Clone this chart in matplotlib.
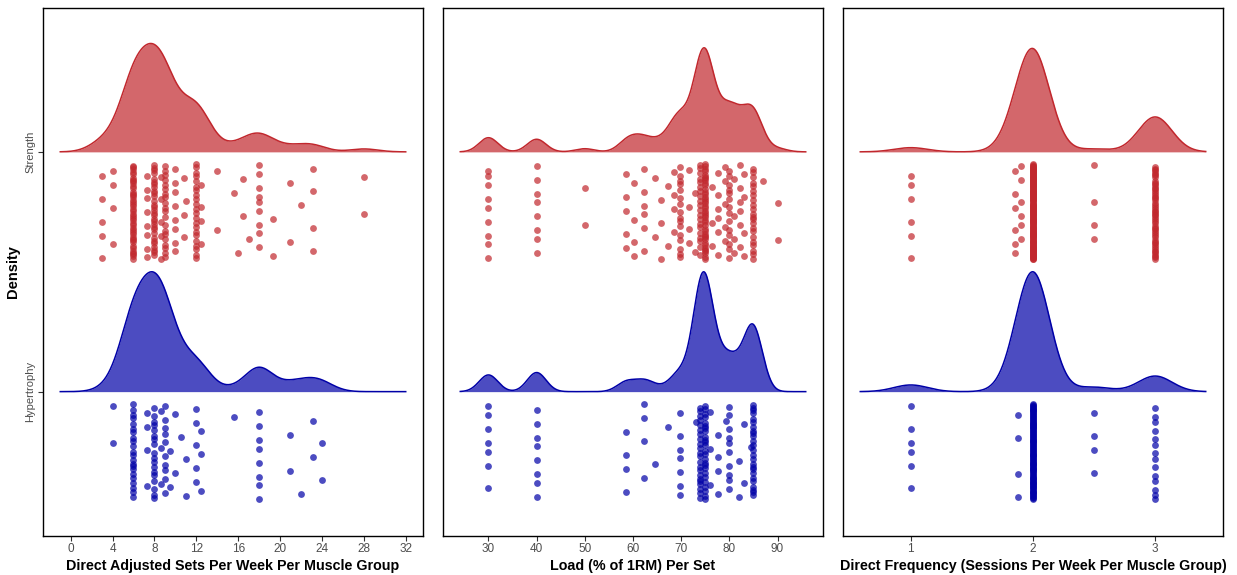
import numpy as np
import matplotlib.pyplot as plt

plt.rcParams['font.family'] = ['Liberation Sans', 'DejaVu Sans']

RED = "#C1272D"
BLUE = "#0000A7"

sets_str_x = [3, 4, 6, 7.3, 8, 8.6, 9, 10, 10.8, 11, 12, 12.4, 14, 15.6, 16, 16.5, 17, 18, 19.3, 20.9, 22, 23.1, 28]
sets_str_n = [5, 4, 42, 8, 30, 5, 20, 8, 3, 1, 22, 4, 2, 1, 1, 2, 1, 9, 2, 2, 1, 4, 2]
sets_hyp_x = [4, 6, 7.3, 8, 8.6, 9, 9.5, 10, 10.5, 11, 12, 12.4, 15.6, 18, 20.9, 22, 23.1, 24]
sets_hyp_n = [2, 22, 4, 18, 3, 10, 2, 2, 1, 2, 5, 3, 1, 8, 2, 1, 2, 2]

load_str_x = [30, 40, 50, 58.6, 60.2, 62.3, 64.5, 65.9, 67.2, 68.5, 69.7, 71.7, 72.8, 74, 75, 76.4, 77.7, 79, 80, 80.9, 82.3, 83, 85, 86.9, 90]
load_str_n = [9, 8, 2, 5, 4, 6, 2, 3, 2, 4, 16, 4, 2, 20, 40, 3, 6, 5, 14, 4, 6, 4, 22, 1, 2]
load_hyp_x = [30, 40, 58.6, 62.3, 64.5, 67.2, 69.7, 73, 74, 75, 76, 77.7, 79.3, 80, 82, 83, 84.4, 85]
load_hyp_n = [7, 8, 4, 4, 1, 1, 7, 1, 22, 25, 3, 4, 1, 10, 2, 2, 1, 25]

freq_str_x = [1, 1.85, 1.9, 2, 2.5, 3]
freq_str_n = [6, 6, 6, 140, 4, 50]
freq_hyp_x = [1, 1.875, 2, 2.5, 3]
freq_hyp_n = [6, 4, 105, 4, 14]

groups = ["Hypertrophy", "Strength"]

panels = [
    dict(xlabel="Direct Adjusted Sets Per Week Per Muscle Group",
         strength=(sets_str_x, sets_str_n), hyp=(sets_hyp_x, sets_hyp_n),
         bw=1.33, ticks=np.arange(0, 33, 4)),
    dict(xlabel="Load (% of 1RM) Per Set",
         strength=(load_str_x, load_str_n), hyp=(load_hyp_x, load_hyp_n),
         bw=1.95, ticks=np.arange(30, 91, 10)),
    dict(xlabel="Direct Frequency (Sessions Per Week Per Muscle Group)",
         strength=(freq_str_x, freq_str_n), hyp=(freq_hyp_x, freq_hyp_n),
         bw=0.138, ticks=[1, 2, 3]),
]


def kde(data, grid, bw):
    d = (grid[:, None] - data[None, :]) / bw
    return np.exp(-0.5 * d ** 2).sum(1) / (len(data) * bw * np.sqrt(2 * np.pi))


def jitter(n, phase):
    i = np.arange(n)
    frac = (i * 0.6180339887 + phase) % 1.0
    return -(0.05 + 0.40 * frac)


fig = plt.figure(figsize=(12.37, 5.75), dpi=100)
lefts = [43 / 1237, 443 / 1237, 843 / 1237]
w = 380 / 1237
bottom = 39.5 / 575
h = 527.5 / 575

for k, p in enumerate(panels):
    ax = fig.add_axes([lefts[k], bottom, w, h])
    s_data = np.repeat(p["strength"][0], p["strength"][1]).astype(float)
    h_data = np.repeat(p["hyp"][0], p["hyp"][1]).astype(float)
    bw = p["bw"]
    lo = min(s_data.min(), h_data.min()) - 3 * bw
    hi = max(s_data.max(), h_data.max()) + 3 * bw
    grid = np.linspace(lo, hi, 512)
    ds = kde(s_data, grid, bw)
    dh = kde(h_data, grid, bw)
    top = max(ds.max(), dh.max())

    for base, data, dens, col, ph in [(2, s_data, ds, RED, 0.13), (1, h_data, dh, BLUE, 0.41)]:
        yy = base + dens / top * 0.5
        ax.fill_between(grid, base, yy, color=col, alpha=0.7, lw=0, zorder=2)
        ax.plot(grid, yy, color=col, lw=1.1, zorder=3)
        ax.scatter(data, base + jitter(len(data), ph), s=24, color=col,
                   alpha=0.7, lw=0, zorder=4)

    pad = (hi - lo) * 0.05
    ax.set_xlim(lo - pad, hi + pad)
    ax.set_ylim(0.4, 2.6)
    ax.set_xticks(p["ticks"])
    ax.set_xlabel(p["xlabel"], fontsize=10.3, fontweight="bold", labelpad=3)
    ax.tick_params(axis="x", direction="out", length=3.5, width=0.8,
                   color="#333333", labelcolor="#4D4D4D", labelsize=8.5, pad=2)
    for sp in ax.spines.values():
        sp.set_linewidth(1.0)
        sp.set_color("black")
    if k == 0:
        ax.set_yticks([1, 2])
        ax.set_yticklabels(groups, rotation=90, va="center", color="#4D4D4D", fontsize=8)
        ax.tick_params(axis="y", direction="out", length=3.5, width=0.8,
                       color="#333333", pad=2)
        ax.set_ylabel("Density", fontsize=10.5, fontweight="bold", labelpad=4)
    else:
        ax.set_yticks([])

fig.savefig("out.png", dpi=100)
